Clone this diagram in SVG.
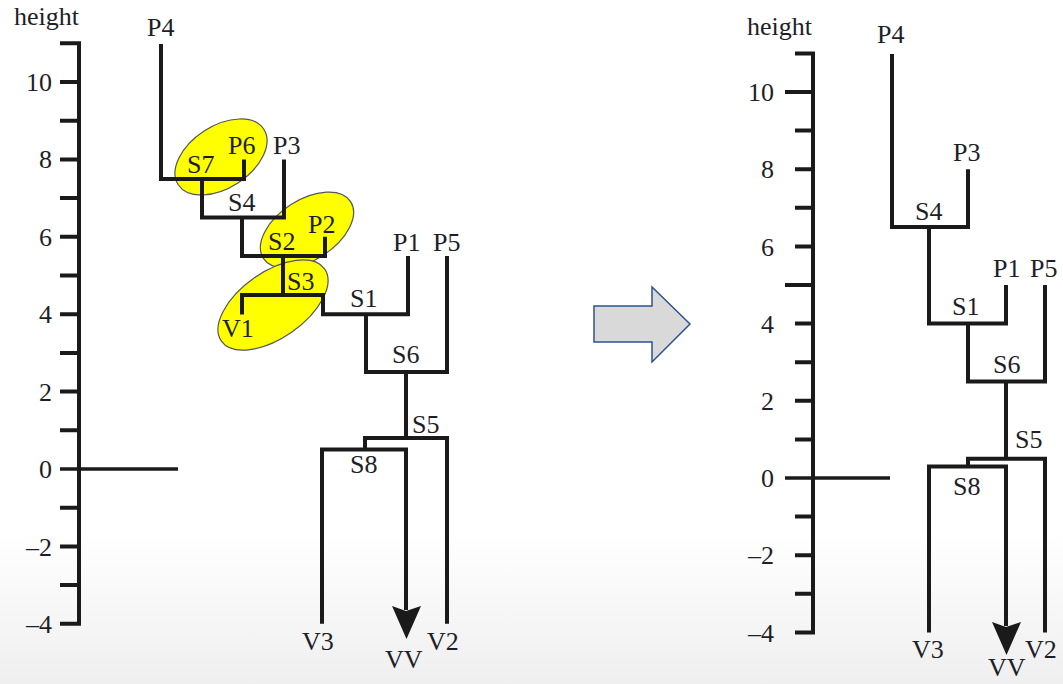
<svg xmlns="http://www.w3.org/2000/svg" width="1063" height="684" viewBox="0 0 1063 684">
<defs>
<linearGradient id="bg" x1="0" y1="0" x2="0" y2="1">
<stop offset="0" stop-color="#ffffff"/>
<stop offset="0.78" stop-color="#ffffff"/>
<stop offset="1" stop-color="#efefef"/>
</linearGradient>
<style>
.ax{fill:none;stroke:#1a1a1a;stroke-width:4;stroke-linejoin:miter;stroke-linecap:butt}
.tk{fill:none;stroke:#1a1a1a;stroke-width:4}
.ln{fill:none;stroke:#1a1a1a;stroke-width:4;stroke-linejoin:miter;stroke-linecap:butt}
.zl{fill:none;stroke:#1a1a1a;stroke-width:3.5}
.hd{fill:#1a1a1a;stroke:none}
.el{fill:#ffff00;stroke:#555555;stroke-width:1.2}
.t{font-family:'Liberation Serif','Times New Roman','DejaVu Serif',serif;font-size:26px;fill:#1e1e28}
.num{text-anchor:end}
</style>
</defs>
<rect x="0" y="0" width="1063" height="684" fill="url(#bg)"/>

<!-- Left axis -->
<g id="axis-left">
<path class="ax" d="M60,43.3 H79 V623.8 H60"/>
<path class="tk" d="M60,82 H79 M60,120.7 H79 M60,159.4 H79 M60,198.1 H79 M60,236.8 H79 M60,275.5 H79 M60,314.2 H79 M60,352.9 H79 M60,391.6 H79 M60,430.3 H79 M60,507.7 H79 M60,546.4 H79 M60,585.1 H79"/>
<path class="zl" d="M60,469 H178"/>
<g class="t">
<text x="14" y="25">height</text>
<text class="num" x="52" y="91">10</text>
<text class="num" x="52" y="168">8</text>
<text class="num" x="52" y="245.5">6</text>
<text class="num" x="52" y="323">4</text>
<text class="num" x="52" y="400.5">2</text>
<text class="num" x="52" y="478">0</text>
<text class="num" x="52" y="555.5">–2</text>
<text class="num" x="52" y="633">–4</text>
</g>
</g>

<!-- Left highlight ellipses -->
<g id="highlights-left">
<ellipse class="el" cx="221" cy="157" rx="51" ry="31" transform="rotate(-33 221 157)"/>
<ellipse class="el" cx="307" cy="230" rx="52" ry="30" transform="rotate(-33 307 230)"/>
<ellipse class="el" cx="273" cy="305" rx="63" ry="33" transform="rotate(-35 273 305)"/>
</g>

<!-- Left tree connectors -->
<g id="connectors-left">
<path class="ln" d="M161,44 V179 H244 V159.4"/>
<path class="ln" d="M202,179 V217.5 H284 V159.4"/>
<path class="ln" d="M242,217.5 V256 H325 V236.8"/>
<path class="ln" d="M283,256 V295"/>
<path class="ln" d="M242,314.5 V295 H323 V314.2 H408 V256"/>
<path class="ln" d="M366,314.2 V372 H447 V256"/>
<path class="ln" d="M406,372 V438"/>
<path class="ln" d="M365,449.6 V438 H447 V623.8"/>
<path class="ln" d="M322,623.8 V449.6 H406 V610"/>
<path class="hd" d="M392,606 L406,611 L421,606 L406.5,639 Z"/>
</g>

<!-- Left tree labels -->
<g class="t">
<g id="node-left-P4"><text x="147" y="36">P4</text></g>
<g id="node-left-S7"><text x="187" y="173">S7</text></g>
<g id="node-left-P6"><text x="228" y="154">P6</text></g>
<g id="node-left-P3"><text x="273" y="154">P3</text></g>
<g id="node-left-S4"><text x="228" y="211">S4</text></g>
<g id="node-left-S2"><text x="268" y="250">S2</text></g>
<g id="node-left-P2"><text x="308" y="233">P2</text></g>
<g id="node-left-S3"><text x="287" y="290">S3</text></g>
<g id="node-left-S1"><text x="350" y="307">S1</text></g>
<g id="node-left-P1"><text x="393" y="251">P1</text></g>
<g id="node-left-P5"><text x="433" y="251">P5</text></g>
<g id="node-left-V1"><text x="222" y="337">V1</text></g>
<g id="node-left-S6"><text x="392" y="363">S6</text></g>
<g id="node-left-S5"><text x="412" y="433">S5</text></g>
<g id="node-left-S8"><text x="350" y="473">S8</text></g>
<g id="node-left-V3"><text x="302" y="650">V3</text></g>
<g id="node-left-VV"><text x="385" y="668">VV</text></g>
<g id="node-left-V2"><text x="427" y="650">V2</text></g>
</g>

<!-- Transition arrow -->
<g id="transition-arrow">
<polygon points="594,306 652,306 652,287 690,324 652,362 652,342 594,342" fill="#d9d9d9" stroke="#2e528f" stroke-width="1.5" stroke-linejoin="miter"/>
</g>

<!-- Right axis -->
<g id="axis-right">
<path class="ax" d="M795,53.4 H813 V632.4 H795"/>
<path class="tk" d="M785,92 H813 M795,130.6 H813 M795,169.2 H813 M795,207.8 H813 M795,246.4 H813 M785,285 H813 M795,323.6 H813 M795,362.2 H813 M795,400.8 H813 M795,439.4 H813 M795,516.6 H813 M795,555.2 H813 M795,593.8 H813"/>
<path class="zl" d="M785,478 H890"/>
<g class="t">
<text x="747" y="35">height</text>
<text class="num" x="774" y="101">10</text>
<text class="num" x="774" y="178">8</text>
<text class="num" x="774" y="255.5">6</text>
<text class="num" x="774" y="332.5">4</text>
<text class="num" x="774" y="410">2</text>
<text class="num" x="774" y="487">0</text>
<text class="num" x="774" y="564">–2</text>
<text class="num" x="774" y="641.5">–4</text>
</g>
</g>

<!-- Right tree connectors -->
<g id="connectors-right">
<path class="ln" d="M892,54 V227 H968 V169.2"/>
<path class="ln" d="M929,227 V323.6 H1006 V285"/>
<path class="ln" d="M968,323.6 V381.5 H1045 V285"/>
<path class="ln" d="M1006,381.5 V458.7"/>
<path class="ln" d="M968,466.4 V458.7 H1045 V632.4"/>
<path class="ln" d="M929,632.4 V466.4 H1006 V626"/>
<path class="hd" d="M992,622 L1006,627 L1021,622 L1006.5,655 Z"/>
</g>

<!-- Right tree labels -->
<g class="t">
<g id="node-right-P4"><text x="877" y="43">P4</text></g>
<g id="node-right-P3"><text x="953" y="161">P3</text></g>
<g id="node-right-S4"><text x="915" y="220">S4</text></g>
<g id="node-right-P1"><text x="993" y="277">P1</text></g>
<g id="node-right-P5"><text x="1030" y="277">P5</text></g>
<g id="node-right-S1"><text x="952" y="315">S1</text></g>
<g id="node-right-S6"><text x="993" y="373">S6</text></g>
<g id="node-right-S5"><text x="1015" y="448">S5</text></g>
<g id="node-right-S8"><text x="953" y="495">S8</text></g>
<g id="node-right-V3"><text x="912" y="658">V3</text></g>
<g id="node-right-VV"><text x="988" y="676">VV</text></g>
<g id="node-right-V2"><text x="1025" y="658">V2</text></g>
</g>
</svg>
